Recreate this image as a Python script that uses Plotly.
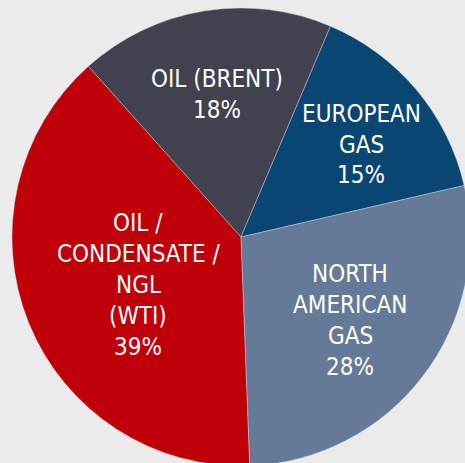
import numpy as np
import plotly.graph_objects as go

# Shares of production by commodity / pricing benchmark
categories = ["OIL / CONDENSATE / NGL (WTI)", "OIL (BRENT)", "EUROPEAN GAS", "NORTH AMERICAN GAS"]
label_lines = [["OIL /", "CONDENSATE /", "NGL", "(WTI)"], ["OIL (BRENT)"], ["EUROPEAN", "GAS"],
               ["NORTH", "AMERICAN", "GAS"]]
shares = [39, 18, 15, 28]

# Styling
colors = ["#c00008", "#41414f", "#0a4674", "#647a98"]
W, H = 475, 471              # canvas size in px
CX, CY, R = 241, 237, 229    # pie centre and radius in px
ROTATION = 177.8             # start angle of the first slice (deg, clockwise from 12 o'clock)
label_radius = [0.496, 0.632, 0.662, 0.601]   # label distance from centre, fraction of radius
label_turn = [-3.0, 0.0, 2.4, 0.0]            # small angular nudge of each label (deg)
LINE_PX = 30.8
FONT = dict(family="DejaVu Sans Condensed, sans-serif", size=24, color="white")

fig = go.Figure(go.Pie(
    labels=categories,
    values=shares,
    sort=False,
    direction="clockwise",
    rotation=ROTATION,
    marker=dict(colors=colors, line=dict(color="rgba(215,215,222,0.7)", width=0.6)),
    textinfo="none",
    hoverinfo="label+percent",
    showlegend=False,
    domain=dict(x=[(CX - R) / W, (CX + R) / W], y=[1 - (CY + R) / H, 1 - (CY - R) / H]),
))

# Slice labels placed along each slice's mid-angle
total = sum(shares)
cum = 0
for lines, v, rf, turn in zip(label_lines, shares, label_radius, label_turn):
    mid = np.radians(ROTATION + 360 * (cum + v / 2) / total + turn)
    cum += v
    px = CX + rf * R * np.sin(mid)
    py = CY - rf * R * np.cos(mid)
    rows = lines + [f"{v}%"]
    n = len(rows)
    for i, row in enumerate(rows):
        y = py + (i - (n - 1) / 2) * LINE_PX
        fig.add_annotation(x=px / W, y=1 - y / H, xref="paper", yref="paper", text=row,
                           showarrow=False, font=FONT, xanchor="center", yanchor="middle")

fig.update_layout(
    width=W, height=H, autosize=False,
    margin=dict(l=0, r=0, t=0, b=0),
    paper_bgcolor="#ebebeb",
    plot_bgcolor="#ebebeb",
)

fig.write_html(
    "out.html",
    post_script="document.body.style.margin='0';"
                "document.body.style.overflow='hidden';"
                "document.documentElement.style.overflow='hidden';",
)
